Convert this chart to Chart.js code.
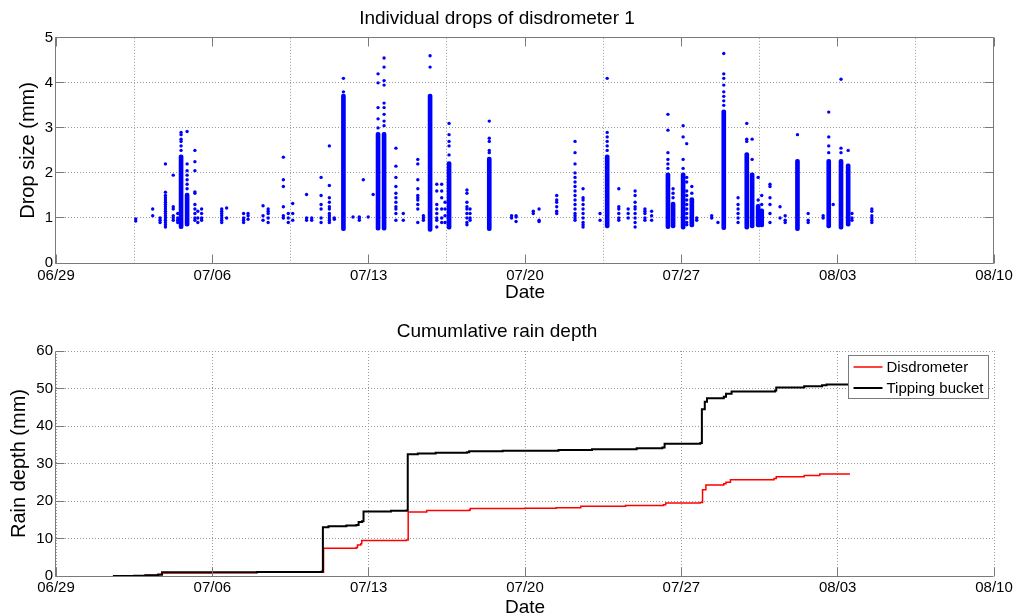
<!DOCTYPE html>
<html>
<head>
<meta charset="utf-8">
<title>Disdrometer drops and cumulative rain depth</title>
<script src="https://cdn.jsdelivr.net/npm/chart.js@4.4.1/dist/chart.umd.min.js"></script>
<style>
  html, body { margin: 0; padding: 0; background: #fff; overflow: hidden; }
  #dropsChart { position: absolute; left: 0; top: 0; }
  #rainChart { position: absolute; left: 0; top: 307px; }
</style>
</head>
<body>
<canvas id="dropsChart" width="1018" height="307"></canvas>
<canvas id="rainChart" width="1018" height="320"></canvas>
<script>
// x values are days since 06/29
const tickDays = [0, 7, 14, 21, 28, 35, 42];
const tickLabels = ['06/29', '07/06', '07/13', '07/20', '07/27', '08/03', '08/10'];

// Individual drops (day, drop sizes in mm)
const dropDays = [3.57, 4.33, 4.66, 4.9, 5.25, 5.45, 5.6, 5.87, 6.22, 6.35, 6.52, 7.42, 7.64, 8.4, 8.6,
  9.27, 9.5, 10.18, 10.4, 10.6, 11.22, 11.45, 11.87, 12.24, 12.46, 12.87, 13.3, 13.58, 13.76, 13.98,
  14.2, 14.42, 14.69, 15.22, 15.55, 16.2, 16.45, 16.75, 17.05, 17.27, 17.42, 17.6, 18.4, 18.54, 19.4,
  20.4, 20.6, 21.37, 21.63, 22.42, 23.24, 23.6, 24.36, 24.68, 25.2, 25.62, 25.93, 26.37, 26.67, 27.4,
  27.63, 28.08, 28.24, 28.47, 28.69, 29.36, 29.64, 29.9, 30.54, 30.93, 31.17, 31.44, 31.6, 31.97,
  32.42, 32.65, 33.2, 33.68, 34.35, 34.6, 34.8, 35.15, 35.47, 35.64, 36.53];
const dropSizes = [
  [0.98, 0.93], [1.2, 1.05], [1.0, 0.95, 0.9],
  [2.2, 1.57, 1.5, 1.45, 1.4, 1.35, 1.3, 1.25, 1.2, 1.15, 1.1, 1.05, 1.0, 0.95, 0.9, 0.85, 0.8],
  [1.95, 1.25, 1.2, 1.05, 1.0, 0.95], [1.1, 1.0, 0.95, 0.9], [2.5, 2.6, 2.7, 2.75, 2.85, 2.9],
  [1.65, 1.75, 1.85, 1.95, 2.05, 2.2, 2.92], [2.5, 2.25, 2.05, 1.58, 1.55, 1.3, 1.2, 1.1, 1.0, 0.95],
  [1.15, 1.0, 0.9], [1.2, 1.1, 1.0, 0.95], [1.2, 1.15, 1.1, 1.05, 1.0, 0.95, 0.9], [1.22, 1.0],
  [1.1, 1.0, 0.95, 0.9], [1.1, 1.05, 0.97], [1.27, 1.05, 0.95], [1.2, 1.15, 1.1, 1.0, 0.9],
  [2.35, 1.85, 1.7, 1.25, 1.05, 1.0], [1.1, 1.0, 0.9], [1.32, 1.1, 0.95], [1.52, 1.0, 0.95],
  [1.0, 0.95], [1.9, 1.5, 1.3, 1.2, 1.0, 0.9], [2.6, 1.72, 1.45, 1.35, 1.25, 1.2, 1.1, 1.05, 1.0, 0.95, 0.9],
  [1.0, 0.97], [3.8, 4.1], [1.02], [1.0, 0.95, 1.02], [1.85], [1.02],
  [1.52], [3.0, 3.2, 3.45, 4.0, 4.2], [3.05, 3.15, 3.3, 3.45, 3.55, 3.95, 4.05, 4.35, 4.55],
  [2.55, 2.15, 1.9, 1.7, 1.55, 1.45, 1.35, 1.25, 1.2, 1.1, 0.95], [1.1, 0.95],
  [2.3, 2.2, 1.85, 1.65, 1.5, 1.45, 1.4, 1.3, 1.2, 0.9], [1.05, 1.0, 0.95], [4.35, 4.6],
  [1.75, 1.6, 1.3, 1.2, 1.1, 1.0, 0.95, 0.8], [1.75, 1.6, 1.45, 1.2, 1.0, 0.9], [1.35, 1.2, 1.05, 0.9],
  [2.4, 2.6, 2.7, 2.85, 3.1], [1.62, 1.55, 1.35, 1.25, 1.2, 1.1, 1.0, 0.9, 0.85], [1.2, 1.1, 1.0, 0.95],
  [2.45, 2.5, 2.7, 2.77, 3.15],
  [1.05, 1.0], [1.02, 0.92, 1.05], [1.15, 1.1], [1.2, 0.95, 0.92], [1.5, 1.4, 1.35, 1.25, 1.15, 1.1],
  [2.7, 2.45, 2.2, 2.0, 1.9, 1.8, 1.7, 1.6, 1.5, 1.4, 1.3, 1.2, 1.1, 1.05, 1.0, 0.95],
  [1.65, 1.45, 1.4, 1.3, 1.2, 1.1, 1.0, 0.9, 0.85, 0.8], [1.1, 0.95], [2.5, 2.6, 2.7, 2.8, 2.9, 4.1],
  [1.65, 1.25, 1.2, 1.1, 1.0, 0.95], [1.2, 1.1, 1.0], [1.6, 1.5, 1.35, 1.25, 1.2, 1.1, 1.0, 0.9, 0.8],
  [1.2, 1.15, 1.1, 1.0, 0.95], [1.15, 1.05, 0.95], [2.1, 2.2, 2.3, 2.45, 2.95, 3.3],
  [1.45, 1.55, 1.65], [2.1, 2.3, 2.8, 3.05], [2.65, 1.9, 1.8, 1.6, 1.5, 1.4, 1.3, 1.2, 1.1, 1.0, 0.9, 0.85],
  [1.55, 1.7], [1.0, 0.95], [1.0, 1.05], [0.9], [3.5, 3.6, 3.7, 3.8, 3.95, 4.1, 4.2, 4.65],
  [1.45, 1.3, 1.2, 1.1, 1.0, 0.9], [2.7, 2.75, 3.1], [2.3, 2.75], [1.4, 1.9], [1.3, 1.5],
  [1.75, 1.7, 1.45, 1.3, 1.1, 0.9],
  [1.25, 1.0], [1.05, 0.95, 0.9], [2.85], [1.1, 0.95, 0.9], [1.05, 1.0], [2.45, 2.6, 2.8, 3.35],
  [1.3], [2.45, 2.55, 4.08], [2.5], [1.1, 1.0, 0.95], [1.2, 1.15, 1.05, 1.0, 0.95, 0.9]
];

// Storm cores where drops overlap into a solid column (day, lowest and highest size in mm)
const denseDays = [5.6, 5.87, 12.87, 14.42, 14.69, 16.75, 17.6, 19.4, 24.68, 27.4, 27.63, 28.08,
  28.47, 29.9, 30.93, 31.17, 31.44, 31.6, 33.2, 34.6, 35.15, 35.47];
const denseLow = [0.76, 0.82, 0.72, 0.73, 0.73, 0.7, 0.75, 0.72, 0.78, 0.76, 0.78, 0.75,
  0.8, 0.74, 0.75, 0.78, 0.8, 0.8, 0.72, 0.78, 0.75, 0.82];
const denseHigh = [2.4, 1.55, 3.75, 2.9, 2.9, 3.75, 2.25, 2.35, 2.4, 2.0, 1.35, 2.0,
  1.45, 3.4, 2.45, 2.0, 1.3, 1.2, 2.3, 2.3, 2.3, 2.2];

// Cumulative rain depth (day, mm)
const disdroDays = [2.55, 3.5, 4.0, 4.57, 4.75, 7.0, 9.0, 11.9, 11.98, 13.45, 13.5, 13.65, 13.69, 15.68,
  15.77, 16.6, 18.5, 18.55, 21.0, 22.4, 23.5, 25.5, 27.2, 27.3, 28.84, 28.95, 29.1, 29.9, 30.0, 30.2,
  32.15, 32.25, 33.5, 34.2, 35.55];
const disdroDepth = [0, 0.1, 0.2, 0.3, 0.8, 0.9, 1.0, 1.0, 7.4, 7.6, 8.3, 8.6, 9.5, 9.6,
  17.1, 17.5, 17.6, 18.0, 18.1, 18.2, 18.6, 18.8, 19.0, 19.5, 19.6, 23.0, 24.3, 24.6, 25.0, 25.7,
  26.0, 26.5, 26.8, 27.2, 27.2];
const tippingDays = [2.55, 3.5, 4.0, 4.57, 4.75, 7.0, 9.0, 11.9, 11.95, 12.2, 13.0, 13.45, 13.55, 13.7,
  13.77, 15.0, 15.7, 15.75, 16.2, 17.0, 18.4, 18.5, 20.0, 22.5, 24.0, 26.0, 27.15, 27.25, 28.85, 28.92,
  29.05, 29.15, 29.9, 30.0, 30.25, 32.2, 32.25, 33.5, 34.3, 34.5, 35.55];
const tippingDepth = [0, 0.1, 0.2, 0.4, 1.0, 1.0, 1.1, 1.2, 13.0, 13.3, 13.5, 13.6, 14.4, 14.6,
  17.2, 17.4, 17.5, 32.5, 32.7, 32.9, 33.0, 33.3, 33.4, 33.6, 33.8, 34.1, 34.3, 35.3, 35.5, 44.5,
  46.5, 47.4, 47.8, 48.6, 49.2, 49.5, 50.3, 50.6, 50.9, 51.1, 51.3];

const FONT = '"Liberation Sans", Arial, Helvetica, sans-serif';
Chart.defaults.font.family = FONT;
Chart.defaults.color = '#000';

// MATLAB style axes: solid left/bottom (and box when asked), inward tick marks
const matlabAxes = {
  id: 'matlabAxes',
  afterDatasetsDraw(chart, args, opts) {
    const { ctx, chartArea: a, scales } = chart;
    const px = v => Math.floor(v) + 0.5;
    const L = px(a.left - 1), R = px(a.right - 1), T = px(a.top), B = px(a.bottom);
    const len = 9;
    ctx.save();
    ctx.strokeStyle = '#7a7a7a';
    ctx.lineWidth = 1;
    ctx.beginPath();
    ctx.moveTo(L, T); ctx.lineTo(L, B); ctx.lineTo(R, B);
    if (opts.box) { ctx.lineTo(R, T); ctx.lineTo(L, T); }
    scales.x.ticks.forEach(t => {
      const x = px(scales.x.getPixelForValue(t.value));
      ctx.moveTo(x, B); ctx.lineTo(x, B - len);
      if (opts.box) { ctx.moveTo(x, T); ctx.lineTo(x, T + len); }
    });
    scales.y.ticks.forEach(t => {
      const y = px(scales.y.getPixelForValue(t.value));
      ctx.moveTo(L, y); ctx.lineTo(L + len, y);
      if (opts.box) { ctx.moveTo(R, y); ctx.lineTo(R - len, y); }
    });
    ctx.stroke();
    ctx.restore();
  }
};

// Legend box drawn in the upper right corner of the plot
const insideLegend = {
  id: 'insideLegend',
  afterDraw(chart, args, opts) {
    if (!opts.display) return;
    const { ctx, chartArea: a } = chart;
    const items = chart.data.datasets;
    ctx.save();
    ctx.font = '15px ' + FONT;
    const textW = Math.max(...items.map(d => ctx.measureText(d.label).width));
    const w = Math.round(38 + textW + 5), h = 43;
    const bx = Math.round(a.right - 6 - w) + 0.5, by = Math.round(a.top + 4) + 0.5;
    ctx.fillStyle = '#fff';
    ctx.fillRect(bx, by, w, h);
    ctx.strokeStyle = '#7a7a7a';
    ctx.lineWidth = 1;
    ctx.strokeRect(bx, by, w, h);
    items.forEach((d, i) => {
      const cy = by + 11.5 + i * 21;
      ctx.strokeStyle = d.borderColor;
      ctx.lineWidth = d.borderWidth;
      ctx.beginPath();
      ctx.moveTo(bx + 5, cy);
      ctx.lineTo(bx + 34, cy);
      ctx.stroke();
      ctx.fillStyle = '#000';
      ctx.textBaseline = 'middle';
      ctx.fillText(d.label, bx + 38, cy + 1);
    });
    ctx.restore();
  }
};

function dateAxis(height, tickPad, titlePad) {
  return {
    type: 'linear',
    min: 0,
    max: 42,
    offset: false,
    afterBuildTicks: scale => { scale.ticks = tickDays.map(v => ({ value: v })); },
    afterFit: scale => { scale.height = height; },
    ticks: {
      font: { size: 15 },
      padding: tickPad,
      maxRotation: 0,
      autoSkip: false,
      callback: (value, i) => tickLabels[i]
    },
    grid: { color: '#9a9a9a', lineWidth: 1, drawTicks: false },
    border: { display: false, dash: [1, 2] },
    title: { display: true, text: 'Date', font: { size: 19 }, padding: { top: 0, bottom: titlePad } }
  };
}

function valueAxis(max, step, text, titlePad) {
  return {
    min: 0,
    max: max,
    afterFit: scale => { scale.width = 56; },
    ticks: { stepSize: step, font: { size: 15 }, padding: 3 },
    grid: { color: '#9a9a9a', lineWidth: 1, drawTicks: false },
    border: { display: false, dash: [1, 2] },
    title: { display: true, text: text, font: { size: 20 }, padding: { top: titlePad, bottom: 0 } }
  };
}

function chartTitle(text, top, bottom) {
  return {
    display: true,
    text: text,
    color: '#000',
    font: { size: 19, weight: 'normal' },
    padding: { top: top, bottom: bottom }
  };
}

// Top panel: individual drops
const dropPoints = dropDays.flatMap((d, i) => dropSizes[i].map(s => ({ x: d, y: s })));
const denseBars = denseDays.map((d, i) => ({ x: d, y: [denseLow[i], denseHigh[i]] }));

new Chart(document.getElementById('dropsChart'), {
  type: 'scatter',
  data: {
    datasets: [
      {
        type: 'scatter',
        label: 'Drops',
        data: dropPoints,
        backgroundColor: '#0000ff',
        borderWidth: 0,
        pointRadius: 1.7
      },
      {
        type: 'bar',
        label: 'Drops (dense)',
        data: denseBars,
        backgroundColor: '#0000ff',
        borderWidth: 0,
        borderRadius: 2,
        borderSkipped: false,
        barThickness: 4
      }
    ]
  },
  options: {
    responsive: false,
    animation: false,
    layout: { padding: { left: 0, right: 24, top: 0, bottom: 0 } },
    scales: {
      x: dateAxis(44, 4, 3),
      y: valueAxis(5, 1, 'Drop size (mm)', 16)
    },
    plugins: {
      title: chartTitle('Individual drops of disdrometer 1', 7, 8),
      legend: { display: false },
      tooltip: { enabled: false },
      matlabAxes: { box: true },
      insideLegend: { display: false }
    }
  },
  plugins: [matlabAxes, insideLegend]
});

// Bottom panel: cumulative rain depth
const disdroLine = disdroDays.map((d, i) => ({ x: d, y: disdroDepth[i] }));
const tippingLine = tippingDays.map((d, i) => ({ x: d, y: tippingDepth[i] }));

new Chart(document.getElementById('rainChart'), {
  type: 'scatter',
  data: {
    datasets: [
      {
        label: 'Disdrometer',
        data: disdroLine,
        showLine: true,
        stepped: true,
        borderColor: '#ff0000',
        borderWidth: 1.5,
        pointRadius: 0,
        order: 1
      },
      {
        label: 'Tipping bucket',
        data: tippingLine,
        showLine: true,
        stepped: true,
        borderColor: '#000000',
        borderWidth: 2,
        pointRadius: 0,
        order: 0
      }
    ]
  },
  options: {
    responsive: false,
    animation: false,
    layout: { padding: { left: 0, right: 24, top: 0, bottom: 0 } },
    scales: {
      x: dateAxis(51, 3, 8),
      y: valueAxis(60, 10, 'Rain depth (mm)', 7.5)
    },
    plugins: {
      title: chartTitle('Cumumlative rain depth', 13.6, 7.6),
      legend: { display: false },
      tooltip: { enabled: false },
      matlabAxes: { box: false },
      insideLegend: { display: true }
    }
  },
  plugins: [matlabAxes, insideLegend]
});
</script>
</body>
</html>
